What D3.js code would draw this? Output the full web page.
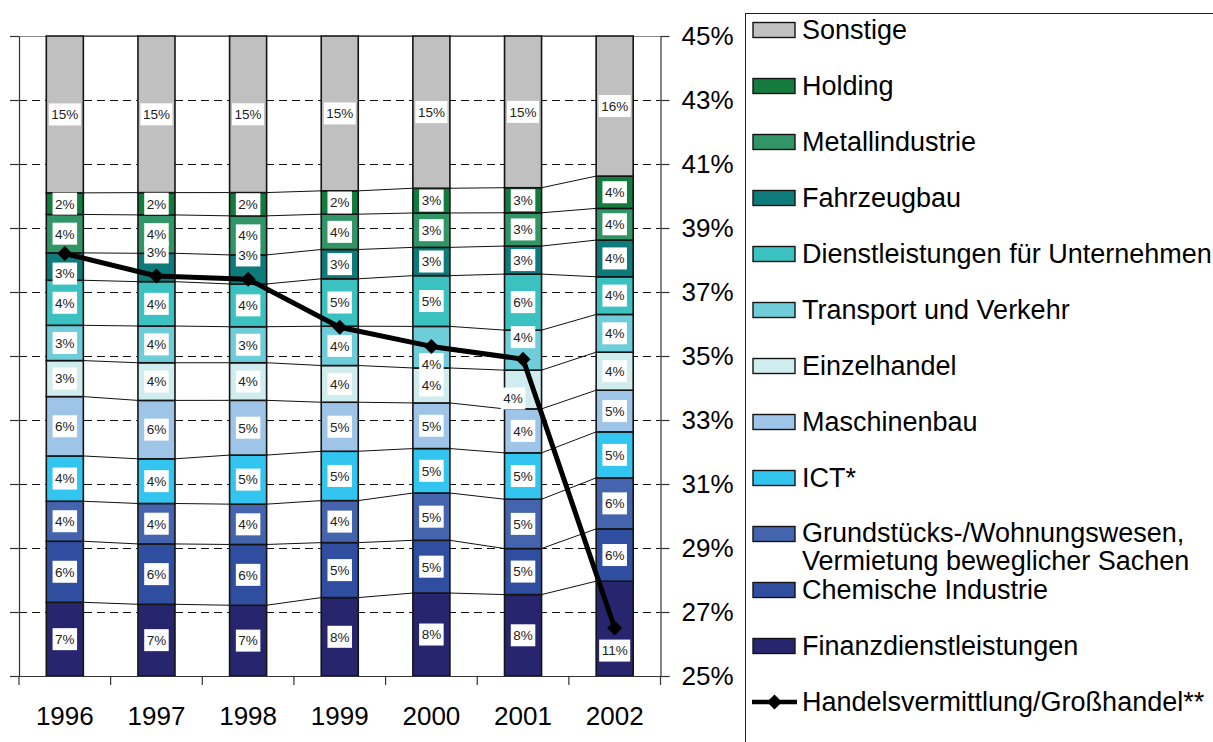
<!DOCTYPE html>
<html>
<head>
<meta charset="utf-8">
<script src="https://cdn.jsdelivr.net/npm/d3@7"></script>
<style>
  html, body { margin: 0; padding: 0; background: #fff; }
  svg { display: block; font-family: "Liberation Sans", Arial, sans-serif; }
</style>
</head>
<body>
<svg id="chart" width="1213" height="742"></svg>
<script>
// ---- data (shares in %, bottom segment first) ----
const years = ["1996", "1997", "1998", "1999", "2000", "2001", "2002"];

const finanzdienstleistungen = [7.0, 6.95, 6.72, 7.82, 8.42, 8.22, 10.8];
const chemischeIndustrie     = [5.8, 5.85, 5.77, 5.48, 5.35, 4.65, 5.96];
const grundstuecke           = [3.8, 3.92, 3.83, 4.19, 4.8, 4.98, 5.81];
const ict                    = [4.3, 4.33, 4.66, 4.92, 4.51, 4.68, 5.24];
const maschinenbau           = [5.64, 5.66, 5.2, 4.89, 4.63, 4.44, 4.75];
const einzelhandel           = [3.42, 3.65, 3.57, 3.66, 3.55, 3.91, 4.33];
const transport              = [3.35, 3.56, 3.42, 3.92, 4.22, 4.04, 4.3];
const dienstleistungen       = [4.28, 4.3, 4.06, 4.73, 5.15, 5.66, 4.29];
const fahrzeugbau            = [2.6, 2.75, 2.76, 2.92, 2.87, 2.83, 4.18];
const metallindustrie        = [3.65, 3.72, 3.71, 3.52, 3.49, 3.36, 3.61];
const holding                = [2.05, 2.16, 2.21, 2.33, 2.51, 2.53, 3.68];
const sonstige               = [14.9, 15.18, 14.87, 15.44, 15.45, 15.32, 15.96];

// line series on the secondary axis
const handelsvermittlung = [38.2, 37.5, 37.4, 35.9, 35.3, 34.9, 26.5];

const seriesNames = [
  "Finanzdienstleistungen",
  "Chemische Industrie",
  "Grundstücks-/Wohnungswesen, Vermietung beweglicher Sachen",
  "ICT*",
  "Maschinenbau",
  "Einzelhandel",
  "Transport und Verkehr",
  "Dienstleistungen für Unternehmen",
  "Fahrzeugbau",
  "Metallindustrie",
  "Holding",
  "Sonstige"
];
const seriesValues = [
  finanzdienstleistungen, chemischeIndustrie, grundstuecke, ict, maschinenbau,
  einzelhandel, transport, dienstleistungen, fahrzeugbau, metallindustrie, holding, sonstige
];
const lineName = "Handelsvermittlung/Großhandel**";
const rightTicks = [25, 27, 29, 31, 33, 35, 37, 39, 41, 43, 45];

// ---- styling ----
const colors = {
  "Finanzdienstleistungen": "#26256e",
  "Chemische Industrie": "#2f4ea0",
  "Grundstücks-/Wohnungswesen, Vermietung beweglicher Sachen": "#4564ae",
  "ICT*": "#31c5f0",
  "Maschinenbau": "#9ec4e8",
  "Einzelhandel": "#cfecef",
  "Transport und Verkehr": "#6ecdd9",
  "Dienstleistungen für Unternehmen": "#3cc1c1",
  "Fahrzeugbau": "#0e7a7a",
  "Metallindustrie": "#329566",
  "Holding": "#137b3e",
  "Sonstige": "#c0c0c0"
};
// hand-placed data labels (offset from segment centre)
const labelNudge = {
  "Fahrzeugbau|1996": [0, 7],
  "Fahrzeugbau|1997": [0, -15],
  "Fahrzeugbau|1998": [0, -14],
  "Transport und Verkehr|2000": [0, 17],
  "Transport und Verkehr|2001": [0, -13],
  "Einzelhandel|2001": [-10, 9],
  "Finanzdienstleistungen|2002": [0, 22]
};

const plot = { left: 19, right: 660.5, top: 36, bottom: 676 };
const svg = d3.select("#chart");
const crisp = v => Math.round(v) + 0.5;

const x = d3.scaleBand()
  .domain(years)
  .range([plot.left, plot.right])
  .paddingInner(0.596)
  .paddingOuter(0.298);
const bw = x.bandwidth();
const yShare = d3.scaleLinear().domain([0, 1]).range([plot.bottom, plot.top]);
const yRight = d3.scaleLinear().domain([25, 45]).range([plot.bottom, plot.top]);

const rows = years.map((yr, i) => {
  const r = { year: yr };
  seriesNames.forEach((k, j) => { r[k] = seriesValues[j][i]; });
  return r;
});
const stacked = d3.stack().keys(seriesNames).offset(d3.stackOffsetExpand)(rows);

// ---- gridlines ----
svg.append("g")
  .selectAll("line")
  .data(rightTicks.filter(t => t > 25 && t < 45))
  .join("line")
  .attr("x1", plot.left).attr("x2", plot.right)
  .attr("y1", d => crisp(yRight(d))).attr("y2", d => crisp(yRight(d)))
  .attr("stroke", "#111").attr("stroke-width", 1)
  .attr("stroke-dasharray", "8,5");

// plot top edge
svg.append("line")
  .attr("x1", plot.left).attr("x2", plot.right)
  .attr("y1", crisp(plot.top)).attr("y2", crisp(plot.top))
  .attr("stroke", "#8a8a8a").attr("stroke-width", 1.2);

// ---- series lines joining segment tops ----
const sl = svg.append("g").attr("fill", "none").attr("stroke", "#111").attr("stroke-width", 1);
stacked.forEach(layer => {
  for (let i = 0; i < years.length - 1; i++) {
    const a = layer[i], b = layer[i + 1];
    sl.append("line")
      .attr("x1", x(years[i]) + bw).attr("y1", yShare(a[1]))
      .attr("x2", x(years[i + 1])).attr("y2", yShare(b[1]));
  }
});

// ---- stacked bars ----
const layers = svg.append("g")
  .selectAll("g")
  .data(stacked)
  .join("g")
  .attr("fill", d => colors[d.key]);

layers.selectAll("rect")
  .data(d => d)
  .join("rect")
  .attr("x", d => x(d.data.year))
  .attr("width", bw)
  .attr("y", d => yShare(d[1]))
  .attr("height", d => yShare(d[0]) - yShare(d[1]))
  .attr("stroke", "#141414")
  .attr("stroke-width", 1.6);

// ---- data labels ----
const labelG = svg.append("g").attr("font-size", 13.5).attr("fill", "#222");
stacked.forEach(layer => {
  layer.forEach(d => {
    const key = layer.key + "|" + d.data.year;
    const nudge = labelNudge[key] || [0, 0];
    const cx = x(d.data.year) + bw / 2 + nudge[0];
    const cy = (yShare(d[0]) + yShare(d[1])) / 2 + nudge[1];
    const g = labelG.append("g").attr("transform", `translate(${cx},${cy})`);
    const rect = g.append("rect").attr("fill", "#fff");
    const t = g.append("text")
      .attr("text-anchor", "middle")
      .attr("dy", "0.36em")
      .text(Math.round(d.data[layer.key]) + "%");
    const w = t.node().getComputedTextLength() + 5;
    rect.attr("x", -w / 2).attr("y", -11).attr("width", w).attr("height", 22);
  });
});

// ---- line series ----
const lineData = years.map((yr, i) => ({ year: yr, value: handelsvermittlung[i] }));
svg.append("path")
  .datum(lineData)
  .attr("fill", "none")
  .attr("stroke", "#000")
  .attr("stroke-width", 5)
  .attr("stroke-linejoin", "round")
  .attr("d", d3.line().x(d => x(d.year) + bw / 2).y(d => yRight(d.value)));

const diamond = d3.symbol().type(d3.symbolSquare).size(112);
svg.append("g")
  .selectAll("path")
  .data(lineData)
  .join("path")
  .attr("d", diamond)
  .attr("transform", d => `translate(${x(d.year) + bw / 2},${yRight(d.value)}) rotate(45)`)
  .attr("fill", "#000");

// ---- axes ----
// left (share) axis: ticks only
const leftAxis = svg.append("g")
  .attr("transform", `translate(${plot.left},0)`)
  .call(d3.axisLeft(yShare).ticks(10).tickSize(9).tickSizeOuter(0).tickFormat(""));
leftAxis.select(".domain").attr("stroke", "#333").attr("stroke-width", 1.2);
leftAxis.selectAll(".tick line").attr("stroke", "#333").attr("stroke-width", 1.2);

// right (percentage) axis
const rightAxis = svg.append("g")
  .attr("transform", `translate(${plot.right},0)`)
  .call(d3.axisRight(yRight).tickValues(rightTicks).tickFormat(d => d + "%")
    .tickSize(9).tickSizeOuter(0).tickPadding(12));
rightAxis.select(".domain").attr("stroke", "#333").attr("stroke-width", 1.2);
rightAxis.selectAll(".tick line").attr("stroke", "#333").attr("stroke-width", 1.2);
rightAxis.selectAll(".tick text")
  .attr("font-family", "Liberation Sans, Arial, sans-serif")
  .attr("font-size", 26).attr("fill", "#000");

// category axis
const bottomAxis = svg.append("g")
  .attr("transform", `translate(0,${plot.bottom})`)
  .call(d3.axisBottom(x).tickSize(0).tickSizeOuter(0).tickPadding(31));
bottomAxis.select(".domain")
  .attr("d", `M${plot.left},0.5H${plot.right + 9}`)
  .attr("stroke", "#333").attr("stroke-width", 1.2);
bottomAxis.selectAll(".tick text")
  .attr("font-family", "Liberation Sans, Arial, sans-serif")
  .attr("font-size", 26).attr("fill", "#000");
const gap = x.step() * x.paddingInner() / 2;
const boundaries = years.map(yr => x(yr) - gap).concat([x(years[years.length - 1]) + bw + gap]);
bottomAxis.append("g")
  .selectAll("line")
  .data(boundaries)
  .join("line")
  .attr("x1", d => d).attr("x2", d => d)
  .attr("y1", 0).attr("y2", 9)
  .attr("stroke", "#333").attr("stroke-width", 1.2);

// ---- legend ----
const legend = svg.append("g").attr("font-size", 27).attr("fill", "#000");
legend.append("rect")
  .attr("x", 745.5).attr("y", 13.5).attr("width", 600).attr("height", 800)
  .attr("fill", "none").attr("stroke", "#222").attr("stroke-width", 1);

const legendItems = seriesNames.slice().reverse().map(n => ({ name: n, kind: "bar" }))
  .concat([{ name: lineName, kind: "line" }]);
const ly = d3.scalePoint().domain(legendItems.map(d => d.name)).range([30, 30 + 56 * (legendItems.length - 1)]);

legendItems.forEach(item => {
  const cy = ly(item.name);
  const g = legend.append("g");
  if (item.kind === "bar") {
    g.append("rect")
      .attr("x", 753).attr("y", cy - 7.5).attr("width", 42).attr("height", 15)
      .attr("fill", colors[item.name]).attr("stroke", "#141414").attr("stroke-width", 1.4);
  } else {
    g.append("line").attr("x1", 752).attr("x2", 797).attr("y1", cy).attr("y2", cy)
      .attr("stroke", "#000").attr("stroke-width", 4.5);
    g.append("path").attr("d", diamond)
      .attr("transform", `translate(774.5,${cy}) rotate(45)`).attr("fill", "#000");
  }
  const parts = item.name.split(", ");
  if (parts.length > 1) {
    // two-line entry: each line as its own text
    g.append("text").attr("x", 802).attr("y", cy - 1).attr("dy", "0.35em").text(parts[0] + ",");
    g.append("text").attr("x", 802).attr("y", cy + 27).attr("dy", "0.35em").text(parts[1]);
  } else {
    g.append("text").attr("x", 802).attr("y", cy).attr("dy", "0.35em").text(item.name);
  }
});
</script>
</body>
</html>
